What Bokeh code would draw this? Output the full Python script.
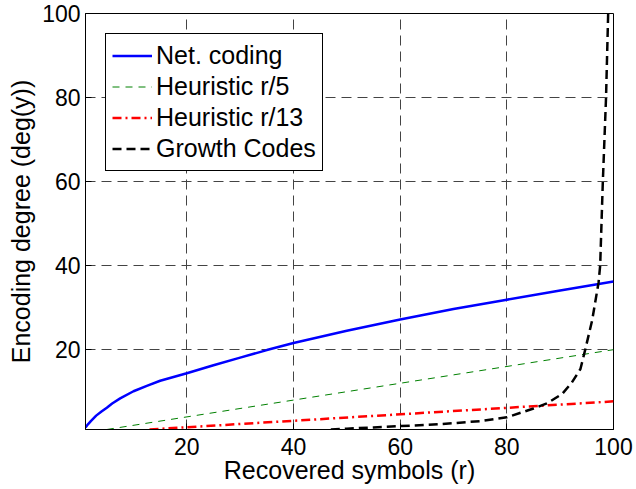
from bokeh.plotting import figure
from bokeh.models import Range1d, FixedTicker
from bokeh.embed import file_html
from bokeh.resources import INLINE

# ---- data ----
x_ticks = [20, 40, 60, 80, 100]
y_ticks = [20, 40, 60, 80, 100]

r_net = [1, 1.5, 2, 3, 4, 5, 6, 7.5, 10, 12.5, 15, 20, 25, 30, 35, 40, 50, 60, 70, 80, 90, 100]
deg_net = [1.5, 2.3, 3.0, 4.3, 5.3, 6.2, 7.2, 8.4, 10.1, 11.4, 12.6, 14.4, 16.3, 18.1, 19.9,
           21.6, 24.5, 27.2, 29.7, 31.9, 34.1, 36.2]

r_h5 = [5, 100]
deg_h5 = [1, 20]

r_h13 = [13, 100]
deg_h13 = [1, 7.7]

r_gc = [47, 50, 55, 60, 65, 70, 75, 80, 85, 87.5, 90.4, 92.2, 93.8, 94.7, 96,
        97.2, 97.5, 98, 98.6, 99]
deg_gc = [1.0, 1.2, 1.5, 1.8, 2.1, 2.5, 3.0, 3.9, 6.0, 7.2, 9.5, 12.2, 15.4, 20,
          27, 36, 40, 60, 80, 100]

FONT = "Liberation Sans"

p = figure(width=636, height=489, output_backend="svg", toolbar_location=None,
           title=None,
           x_range=Range1d(1, 100), y_range=Range1d(1, 100),
           min_border_left=85, min_border_right=23, min_border_top=13,
           min_border_bottom=60)

p.background_fill_color = "white"
p.border_fill_color = "white"
p.outline_line_color = "black"
p.outline_line_alpha = 1
p.outline_line_width = 1

p.line(r_net, deg_net, line_color="#0000ff", line_width=2.5, legend_label="Net. coding")
p.line(r_h5, deg_h5, line_color="#008000", line_width=1, line_dash="7 6",
       legend_label="Heuristic r/5")
p.line(r_h13, deg_h13, line_color="#ff0000", line_width=2.5, line_dash="9 4 2 4",
       legend_label="Heuristic r/13")
p.line(r_gc, deg_gc, line_color="black", line_width=2.5, line_dash="9 5",
       legend_label="Growth Codes")

for ax, ticks, label in ((p.xaxis[0], x_ticks, "Recovered symbols (r)"),
                         (p.yaxis[0], y_ticks, "Encoding degree (deg(y))")):
    ax.ticker = FixedTicker(ticks=ticks)
    ax.axis_label = label
    ax.major_tick_in = 6
    ax.major_tick_out = 0
    ax.minor_tick_in = 0
    ax.minor_tick_out = 0
    ax.major_tick_line_color = "black"
    ax.axis_line_color = "black"
    ax.major_label_text_font = FONT
    ax.major_label_text_font_size = "23px"
    ax.major_label_text_color = "black"
    ax.axis_label_text_font = FONT
    ax.axis_label_text_font_size = "25px"
    ax.axis_label_text_font_style = "normal"
    ax.axis_label_text_color = "black"

p.xaxis[0].major_label_standoff = 8
p.xaxis[0].axis_label_standoff = -2
p.yaxis[0].major_label_standoff = 5
p.yaxis[0].axis_label_standoff = 4

for g in (p.xgrid[0], p.ygrid[0]):
    g.grid_line_color = "#444444"
    g.grid_line_dash = "10 6"
    g.grid_line_width = 1
    g.grid_line_alpha = 1

lg = p.legend[0]
lg.location = "top_left"
lg.margin = 20
lg.label_text_font = FONT
lg.label_text_font_size = "25px"
lg.label_text_color = "black"
lg.glyph_width = 40
lg.glyph_height = 31
lg.label_height = 31
lg.label_standoff = 4
lg.spacing = 0
lg.padding = 6
lg.border_line_color = "black"
lg.border_line_width = 1
lg.border_line_alpha = 1
lg.background_fill_color = "white"
lg.background_fill_alpha = 1

open("out.html", "w").write(file_html(p, INLINE))
